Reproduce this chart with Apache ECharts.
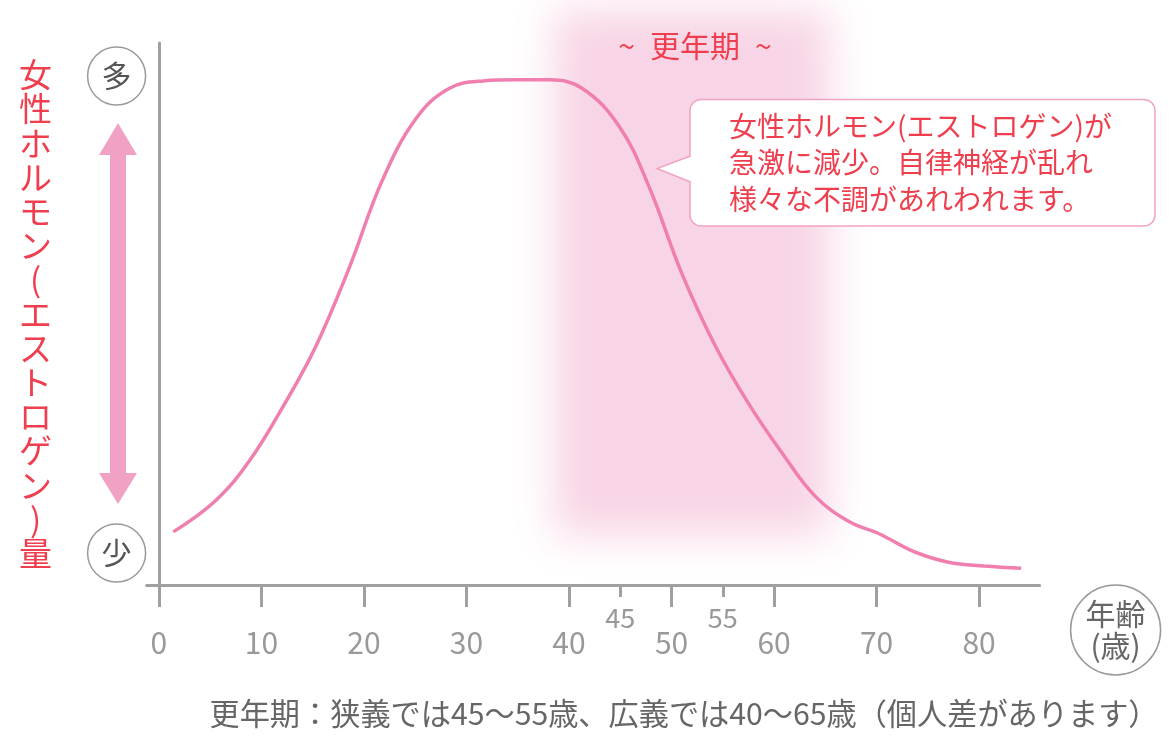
<!DOCTYPE html>
<html><head><meta charset="utf-8">
<script src="https://cdn.jsdelivr.net/npm/echarts@6/dist/echarts.min.js"></script>
<style>html,body{margin:0;padding:0;background:#fff}#c{width:1170px;height:736px}</style>
</head><body><div id="c"></div>
<script>
// ---- data ----
const ages   = [1.4, 5.6, 8.9, 12.1, 15.3, 18.6, 21.8, 25.1, 28.3, 31.6, 34.8, 38.1, 41.3, 44.9, 47.8, 51.0, 54.3, 57.5, 60.8, 64.0, 67.3, 70.2, 73.7, 77.0, 80.5, 84.1];
const levels = [9.8, 15.7, 23.1, 32.9, 44.0, 58.7, 74.7, 86.1, 91.6, 93.0, 93.2, 93.2, 91.6, 84.6, 73.5, 57.5, 44.0, 33.5, 24.3, 16.4, 11.7, 9.5, 6.1, 4.2, 3.5, 3.1];
const xTickValues = [0, 10, 20, 30, 40, 50, 60, 70, 80];
const pinkTicks = [40, 50, 60];
const narrowTicks = [45, 55];
const bandAges = [38.5, 65.5];      // 更年期 band (soft edges)
const bandLevels = [9.0, 106];
const yLabelValues = [93.9, 5.9];
const yLabelTexts = ['多', '少'];
const yName = ['女','性','ホ','ル','モ','ン','(','エ','ス','ト','ロ','ゲ','ン',')','量'];
const titleText = '~\u2002更年期\u2002~';
const calloutLines = ['女性ホルモン(エストロゲン)が', '急激に減少。自律神経が乱れ', '様々な不調があれわれます。'];
const noteText = '更年期：狭義では45〜55歳、広義では40〜65歳（個人差があります）';

const FONT = '"Noto Sans CJK JP", "Noto Sans", sans-serif';
const RED = '#ef3e4e';
const GRAY = '#a0a0a0';
const PINK = '#e8609c';

const chart = echarts.init(document.getElementById('c'), null, {renderer: 'canvas'});
const OFF = 3000;
chart.setOption({
  animation: false,
  textStyle: {fontFamily: FONT},
  grid: {left: 146.6, right: 130.4, top: 43, bottom: 151, containLabel: false, outerBoundsMode: 'none'},
  title: [
    {text: titleText, left: 695, top: 31, textAlign: 'center', padding: 0,
     textStyle: {fontFamily: FONT, fontSize: 30, fontWeight: 'normal', color: RED}},
    {text: noteText, left: 684, top: 698, textAlign: 'center', padding: 0,
     textStyle: {fontFamily: FONT, fontSize: 30.2, fontWeight: 'normal', color: '#666'}}
  ],
  xAxis: [{
    type: 'value', min: -1.2, max: 85.9, position: 'bottom',
    axisLine: {show: true, onZero: true, lineStyle: {color: GRAY, width: 3}},
    axisTick: {show: true, customValues: xTickValues, length: 22, lineStyle: {color: GRAY, width: 3}},
    axisLabel: {show: true, customValues: xTickValues, margin: 43, fontSize: 30, fontFamily: FONT,
      color: v => pinkTicks.indexOf(v) >= 0 ? PINK : '#999'},
    splitLine: {show: false},
    name: '{a|年齢}\n{a|(歳)}', nameLocation: 'end', nameGap: 31,
    nameTextStyle: {align: 'left', verticalAlign: 'top',
      padding: [13, 0, 13, 0], borderColor: '#999', borderWidth: 1.5, borderRadius: 46,
      rich: {a: {fontFamily: FONT, fontSize: 30, color: '#666', lineHeight: 32, width: 90, align: 'center'}}}
  }, {
    type: 'value', min: -1.2, max: 85.9, position: 'bottom',
    axisLine: {show: false},
    axisTick: {show: true, customValues: narrowTicks, length: 12, lineStyle: {color: GRAY, width: 3}},
    axisLabel: {show: true, customValues: narrowTicks, margin: 19, fontSize: 27, fontFamily: FONT, color: '#999'},
    splitLine: {show: false}
  }],
  yAxis: {
    type: 'value', min: 0, max: 100,
    axisLine: {show: true, onZero: true, lineStyle: {color: GRAY, width: 3}},
    axisTick: {show: false},
    splitLine: {show: false},
    axisLabel: {show: true, customValues: yLabelValues, margin: 1,
      formatter: v => '{c|' + yLabelTexts[yLabelValues.indexOf(v)] + '}',
      rich: {c: {fontFamily: FONT, fontSize: 30, color: '#555', width: 58, height: 58, lineHeight: 58, align: 'center',
        borderColor: '#9a9a9a', borderWidth: 1.5, borderRadius: 30}}},
    name: yName.join('\n'), nameLocation: 'middle', nameGap: 111, nameRotate: 0,
    nameTextStyle: {fontFamily: FONT, fontSize: 33, lineHeight: 34.2, color: RED, align: 'center', verticalAlign: 'middle'}
  },
  series: [{
    type: 'custom', xAxisIndex: 0, yAxisIndex: 0, clip: false, silent: true, z: 1,
    data: [[bandAges[0], bandAges[1], bandLevels[0], bandLevels[1]]],
    encode: {x: [0, 1], y: [2, 3]},
    renderItem: (params, api) => {
      const a = api.coord([api.value(0), api.value(3)]);
      const b = api.coord([api.value(1), api.value(2)]);
      return {type: 'rect', shape: {x: a[0] - OFF, y: a[1], width: b[0] - a[0], height: b[1] - a[1]},
        style: {fill: '#f8d5e6', shadowBlur: 40, shadowColor: '#f8d5e6', shadowOffsetX: OFF, shadowOffsetY: 0}};
    }
  }, {
    type: 'line', xAxisIndex: 0, yAxisIndex: 0, z: 3,
    data: ages.map((a, i) => [a, levels[i]]),
    smooth: 0.4, showSymbol: false, symbol: 'none',
    lineStyle: {color: '#f07fb0', width: 3.5}
  }],
  graphic: [
    {type: 'polygon', z: 10, shape: {points: [[118, 123], [137, 155], [126, 155], [126, 473], [137, 473], [118, 504], [99, 473], [110, 473], [110, 155], [99, 155]]},
     style: {fill: '#f1a2c4'}},
    {type: 'rect', z: 10, shape: {x: 690, y: 99.5, width: 465, height: 126.5, r: 11},
     style: {fill: '#fff', stroke: '#f2a3c2', lineWidth: 1.5}},
    {type: 'polygon', z: 11, shape: {points: [[692, 156], [657, 168.5], [692, 182]]}, style: {fill: '#fff'}},
    {type: 'polyline', z: 12, shape: {points: [[690.5, 156], [657, 168.5], [690.5, 182]]}, style: {stroke: '#f2a3c2', lineWidth: 1.5, fill: null}},
    {type: 'text', z: 12, x: 729, y: 108, style: {text: calloutLines.join('\n'), font: '28px ' + FONT, lineHeight: 36.5,
      fill: RED, align: 'left', verticalAlign: 'top'}}
  ]
});
</script></body></html>
